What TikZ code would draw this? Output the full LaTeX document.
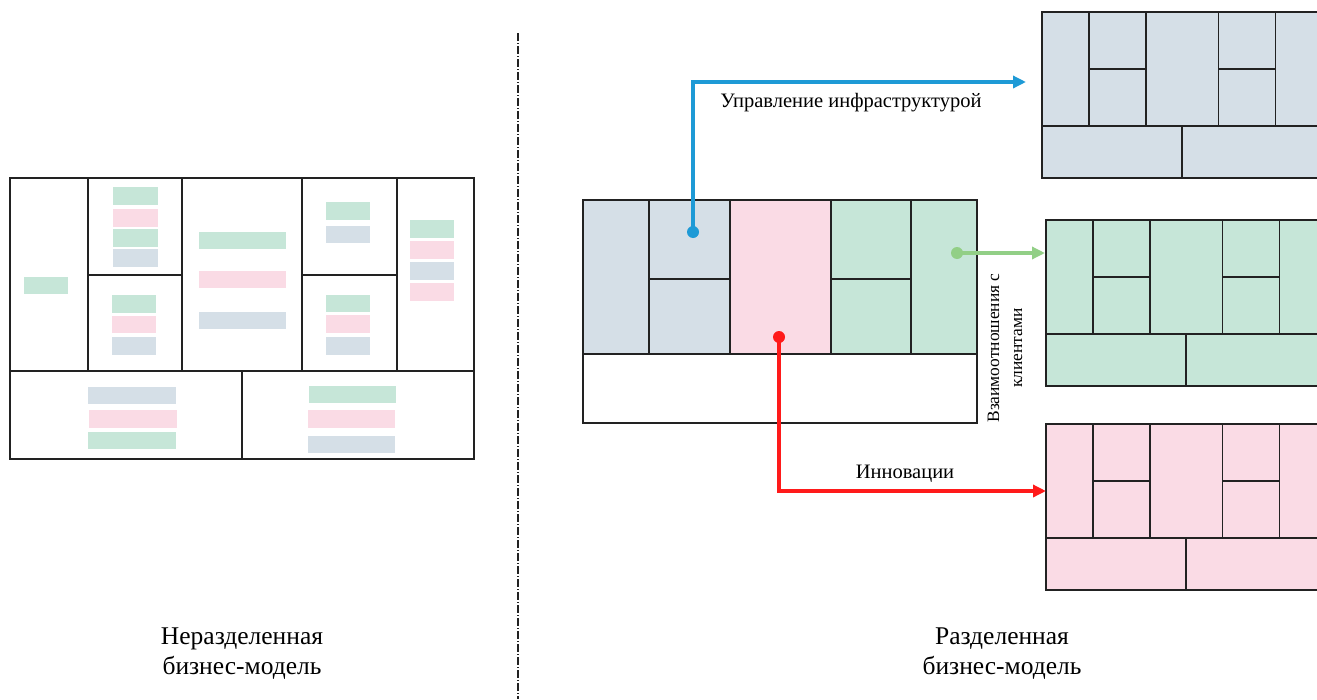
\documentclass[tikz,border=0pt]{standalone}
\usepackage{fontspec}
\setmainfont{Liberation Serif}
\usetikzlibrary{arrows.meta}
\definecolor{sgreen}{HTML}{C6E6D8}
\definecolor{spink}{HTML}{FADBE5}
\definecolor{sblue}{HTML}{D5DFE7}
\definecolor{ablue}{HTML}{1E9AD6}
\definecolor{ared}{HTML}{FF1A1A}
\definecolor{agreen}{HTML}{92CF86}
\definecolor{gline}{HTML}{222222}
\tikzset{
  gridline/.style={draw=gline, line width=1.4pt},
  sticky/.style={draw=none},
  dotnode/.style={circle, inner sep=0pt, minimum size=12pt, draw=none},
  conn/.style={line width=3.6pt, -{Triangle[length=13pt,width=12pt]}},
  lbl/.style={inner sep=0pt, font=\fontsize{20.5}{24}\selectfont},
  caption/.style={inner sep=0pt, align=center, font=\fontsize{25.5}{30}\selectfont},
  divider/.style={draw=gline, line width=1.2pt, dash pattern=on 8pt off 2pt on 1pt off 2pt}
}
\newcommand\rcanvas[3]{%
  \begin{scope}[shift={(#1,#2)}]
    \fill[#3] (0,0) rectangle (300,166);
    \draw[gridline] (300,0) -- (0,0) -- (0,166) -- (300,166);
    \draw[gridline] (0,114) -- (300,114);
    \draw[gridline] (47,0) -- (47,114);
    \draw[gridline] (104,0) -- (104,114);
    \draw[gridline] (176.5,0) -- (176.5,114);
    \draw[gridline] (233.5,0) -- (233.5,114);
    \draw[gridline] (47,57) -- (104,57);
    \draw[gridline] (176.5,57) -- (233.5,57);
    \draw[gridline] (140,114) -- (140,166);
  \end{scope}}
\begin{document}
\begin{tikzpicture}[x=1pt,y=-1pt]
\useasboundingbox (0,0) rectangle (1317,699);
\clip (0,0) rectangle (1317,699);
\fill[white] (0,0) rectangle (1317,699);

% ---------- left canvas: stickies ----------
\fill[sticky,sgreen] (24,277) rectangle (68,294);
\fill[sticky,sgreen] (113,187) rectangle (158,205);
\fill[sticky,spink]  (113,209) rectangle (158,227);
\fill[sticky,sgreen] (113,229) rectangle (158,247);
\fill[sticky,sblue]  (113,249) rectangle (158,267);
\fill[sticky,sgreen] (112,295) rectangle (156,313);
\fill[sticky,spink]  (112,316) rectangle (156,333);
\fill[sticky,sblue]  (112,337) rectangle (156,355);
\fill[sticky,sgreen] (199,232) rectangle (286,249);
\fill[sticky,spink]  (199,271) rectangle (286,288);
\fill[sticky,sblue]  (199,312) rectangle (286,329);
\fill[sticky,sgreen] (326,202) rectangle (370,220);
\fill[sticky,sblue]  (326,226) rectangle (370,243);
\fill[sticky,sgreen] (326,295) rectangle (370,312);
\fill[sticky,spink]  (326,315) rectangle (370,333);
\fill[sticky,sblue]  (326,337) rectangle (370,355);
\fill[sticky,sgreen] (410,220) rectangle (454,238);
\fill[sticky,spink]  (410,241) rectangle (454,259);
\fill[sticky,sblue]  (410,262) rectangle (454,280);
\fill[sticky,spink]  (410,283) rectangle (454,301);
\fill[sticky,sblue]  (88,387) rectangle (176,404);
\fill[sticky,spink]  (89,410) rectangle (177,428);
\fill[sticky,sgreen] (88,432) rectangle (176,449);
\fill[sticky,sgreen] (309,386) rectangle (396,403);
\fill[sticky,spink]  (308,410) rectangle (395,428);
\fill[sticky,sblue]  (308,436) rectangle (395,453);

% ---------- left canvas: grid ----------
\draw[gridline] (10,178) rectangle (474,459);
\draw[gridline] (10,371) -- (474,371);
\draw[gridline] (88,178) -- (88,371);
\draw[gridline] (182,178) -- (182,371);
\draw[gridline] (302,178) -- (302,371);
\draw[gridline] (397,178) -- (397,371);
\draw[gridline] (88,275) -- (182,275);
\draw[gridline] (302,275) -- (397,275);
\draw[gridline] (242,371) -- (242,459);

% ---------- divider ----------
\coordinate (dtop) at (518,33);
\coordinate (dbot) at (518,699);
\draw[divider] (dtop) -- (dbot);

% ---------- middle canvas ----------
\fill[sblue]  (583,200) rectangle (730,354);
\fill[spink]  (730,200) rectangle (831,354);
\fill[sgreen] (831,200) rectangle (977,354);
\draw[gridline] (583,200) rectangle (977,423);
\draw[gridline] (583,354) -- (977,354);
\draw[gridline] (649,200) -- (649,354);
\draw[gridline] (730,200) -- (730,354);
\draw[gridline] (831,200) -- (831,354);
\draw[gridline] (911,200) -- (911,354);
\draw[gridline] (649,279) -- (730,279);
\draw[gridline] (831,279) -- (911,279);

% ---------- right canvases ----------
\rcanvas{1042}{12}{sblue}
\rcanvas{1046}{220}{sgreen}
\rcanvas{1046}{424}{spink}

% ---------- connectors ----------
\node[dotnode, fill=ablue] (bdot) at (693,232) {};
\node[dotnode, fill=ared] (rdot) at (779,337) {};
\node[dotnode, fill=agreen] (gdot) at (957,253) {};
\coordinate (bend) at (1026,82);
\coordinate (rend) at (1046,491);
\coordinate (gend) at (1045,253);
\draw[conn, ablue] (bdot.center) |- (bend);
\draw[conn, ared] (rdot.center) |- (rend);
\draw[conn, agreen] (gdot.center) -- (gend);

% ---------- labels ----------
\node[lbl] (lblinfra) at (851,103) {Управление инфраструктурой};
\node[lbl] (lblinno) at (905,474) {Инновации};
\node[lbl, align=center, rotate=90, font=\fontsize{17.4}{23}\selectfont] (lblcust) at (1005,348) {Взаимоотношения с\\клиентами};
\node[caption] (capleft) at (242,654) {Неразделенная\\бизнес-модель};
\node[caption] (capright) at (1002,654) {Разделенная\\бизнес-модель};
\end{tikzpicture}
\end{document}
